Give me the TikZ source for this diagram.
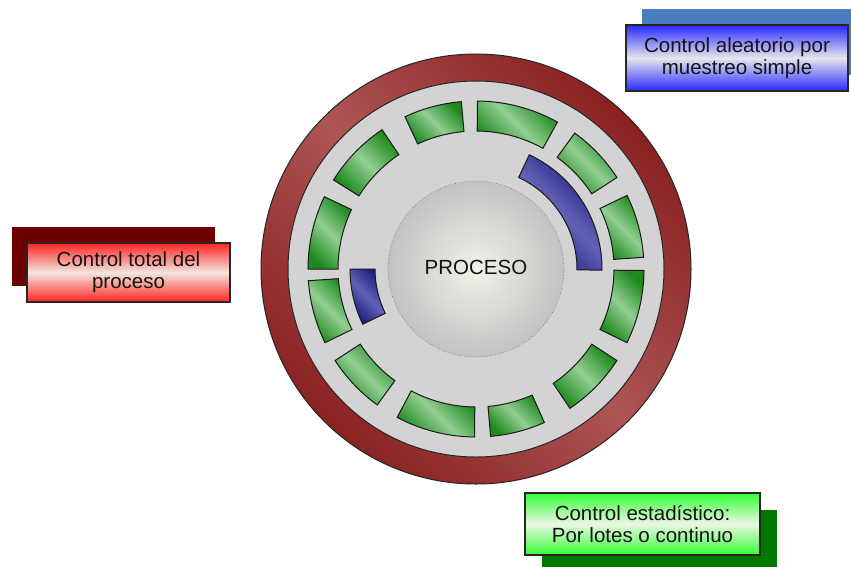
\documentclass[tikz,border=0pt]{standalone}
\usepackage{fontspec}
\setmainfont{Liberation Sans}
\usetikzlibrary{shadows}

\definecolor{ringdark}{HTML}{8A2222}
\definecolor{ringlight}{HTML}{AD5555}
\definecolor{diskgray}{HTML}{D3D3D3}
\definecolor{segdark}{HTML}{1E8A1E}
\definecolor{seglight}{HTML}{92CE92}
\definecolor{bluedark}{HTML}{181880}
\definecolor{bluelight}{HTML}{6262B4}
\definecolor{procin}{HTML}{F2F2EA}
\definecolor{procout}{HTML}{C2C2C2}
\definecolor{txt}{HTML}{141414}

% boxes
\definecolor{boxred}{HTML}{FF2424}
\definecolor{boxredmid}{HTML}{F3E6DE}
\definecolor{shred}{HTML}{6E0000}
\definecolor{boxblue}{HTML}{2828FF}
\definecolor{boxbluemid}{HTML}{E6E6EE}
\definecolor{shblue}{HTML}{4A7CC0}
\definecolor{boxgreen}{HTML}{33FF33}
\definecolor{boxgreenmid}{HTML}{EAF6E4}
\definecolor{shgreen}{HTML}{007800}

\tikzset{
  labeltext/.style={font=\fontsize{20.5}{22}\selectfont, text=txt, align=center},
  infobox/.style={labeltext, rectangle, draw=black!85, line width=1.2pt,
    inner sep=0pt},
  redbox/.style={infobox, top color=boxred, bottom color=boxred,
    middle color=boxredmid,
    general shadow={fill=shred, shadow xshift=-15pt, shadow yshift=16pt}},
  bluebox/.style={infobox, top color=boxblue, bottom color=boxblue,
    middle color=boxbluemid,
    general shadow={fill=shblue, shadow xshift=16pt, shadow yshift=16pt}},
  greenbox/.style={infobox, top color=boxgreen, bottom color=boxgreen,
    middle color=boxgreenmid,
    general shadow={fill=shgreen, shadow xshift=17pt, shadow yshift=-17pt}},
  greenseg/.style={draw=black!90, line width=1pt,
    top color=segdark, bottom color=segdark, middle color=seglight,
    shading angle=-45},
  blueseg/.style={draw=black!90, line width=1pt,
    top color=bluedark, bottom color=bluedark, middle color=bluelight,
    shading angle=-45},
}

% annular sector: style, start angle, end angle, inner radius, outer radius
\newcommand\arcband[5]{%
  \path[#1] (#2:#5) arc[start angle=#2, end angle=#3, radius=#5]
    -- (#3:#4) arc[start angle=#3, end angle=#2, radius=#4] -- cycle;}

\begin{document}
\begin{tikzpicture}[x=1pt,y=-1pt]
\useasboundingbox (0,0) rectangle (851,566);
\fill[white] (0,0) rectangle (851,566);

\begin{scope}[shift={(476,269)}]
  % outer red ring and grey disk
  \shade[top color=ringdark, bottom color=ringdark, middle color=ringlight,
    shading angle=-45] (0,0) circle[radius=215pt];
  \draw[black!85, line width=1pt] (0,0) circle[radius=215pt];
  \draw[black!85, line width=1pt, fill=diskgray] (0,0) circle[radius=188pt];

  % green segments
  \arcband{greenseg}{61}{89.5}{138pt}{168pt}
  \arcband{greenseg}{33}{54}{138pt}{168pt}
  \arcband{greenseg}{4}{26}{138pt}{168pt}
  \arcband{greenseg}{-26}{-0.5}{138pt}{168pt}
  \arcband{greenseg}{-56}{-33}{138pt}{168pt}
  \arcband{greenseg}{-85}{-66}{138pt}{168pt}
  \arcband{greenseg}{-118}{-90.5}{138pt}{168pt}
  \arcband{greenseg}{-147}{-126}{138pt}{168pt}
  \arcband{greenseg}{-176}{-154}{138pt}{168pt}
  \arcband{greenseg}{154.5}{180}{138pt}{168pt}
  \arcband{greenseg}{124}{148}{138pt}{168pt}
  \arcband{greenseg}{95}{115}{138pt}{168pt}

  % blue segments
  \arcband{blueseg}{-0.5}{65}{101pt}{126pt}
  \arcband{blueseg}{180}{206}{101pt}{126pt}

  % central process
  \shade[inner color=procin, outer color=procout] (0,0) circle[radius=88pt];
  \draw[black!60, line width=0.6pt, dotted] (0,0) circle[radius=88pt];
\end{scope}

\node[labeltext] (proc) at (476,267.5) {PROCESO};

\node[redbox, minimum width=203pt, minimum height=59pt]
  (total) at (128.5,272.5) {Control total del\\proceso};
\node[bluebox, minimum width=222pt, minimum height=66pt]
  (aleat) at (737,58) {Control aleatorio por\\muestreo simple};
\node[greenbox, minimum width=235pt, minimum height=62pt]
  (estad) at (642.5,524) {Control estadístico:\\Por lotes o continuo};
\end{tikzpicture}
\end{document}
